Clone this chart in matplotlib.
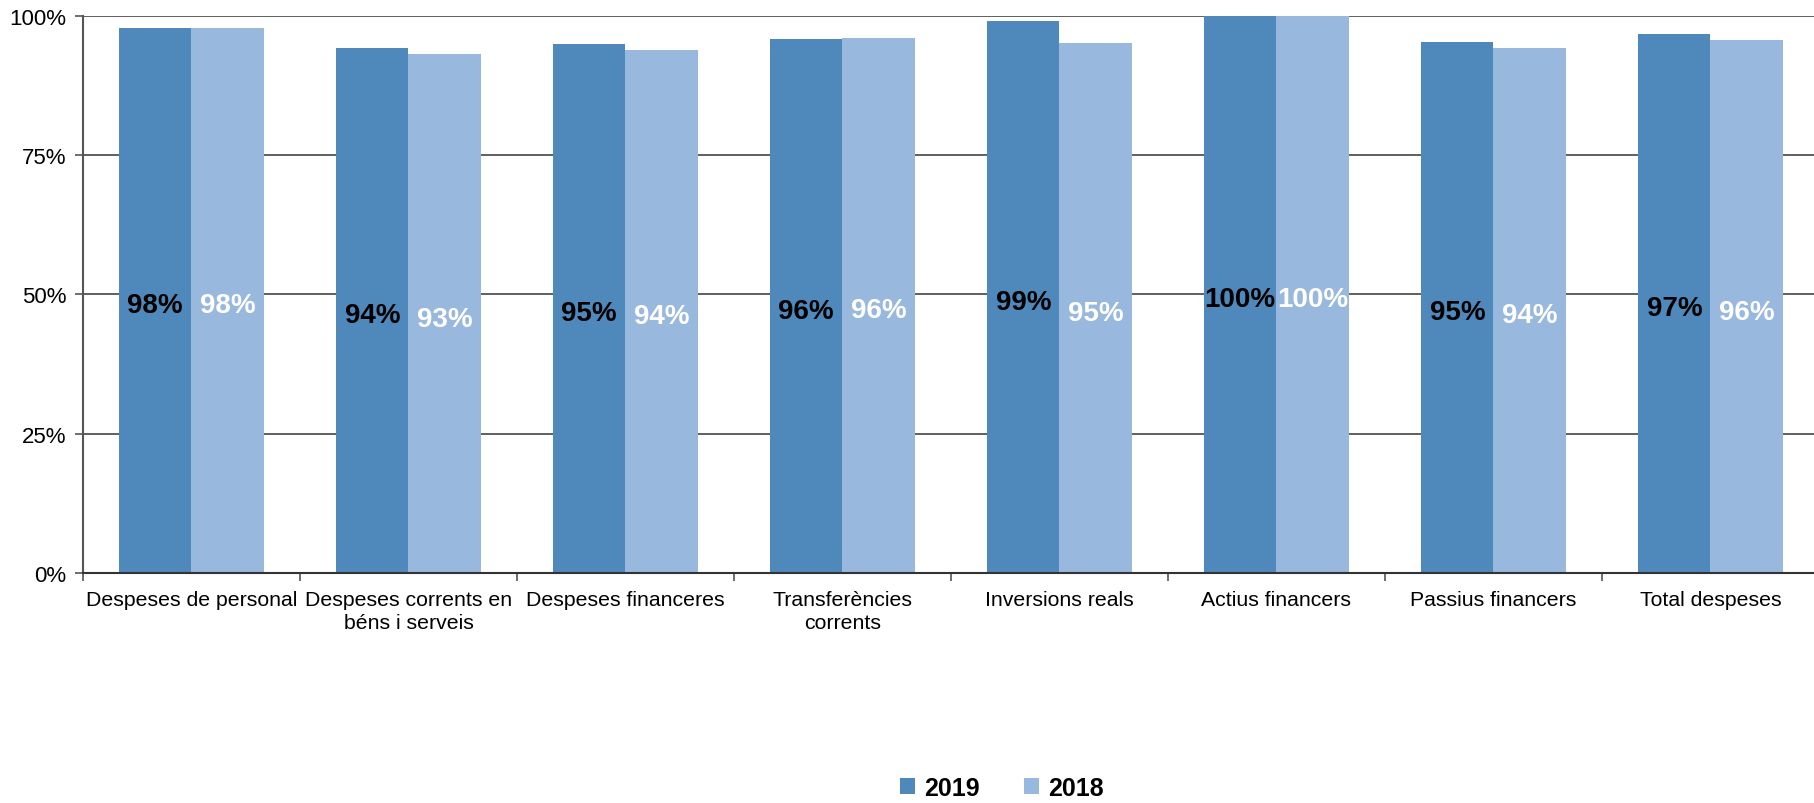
import matplotlib
matplotlib.use('Agg')
import matplotlib.pyplot as plt
import numpy as np

plt.rcParams['font.family'] = ['Liberation Sans', 'DejaVu Sans']

# data
categories = ['Despeses de personal', 'Despeses corrents en\nbéns i serveis',
              'Despeses financeres', 'Transferències\ncorrents', 'Inversions reals',
              'Actius financers', 'Passius financers', 'Total despeses']
vals_2019 = [97.8, 94.2, 95.0, 95.8, 99.1, 100.0, 95.4, 96.8]
vals_2018 = [97.9, 93.1, 93.9, 96.0, 95.2, 100.0, 94.3, 95.6]
labels_2019 = ['98%', '94%', '95%', '96%', '99%', '100%', '95%', '97%']
labels_2018 = ['98%', '93%', '94%', '96%', '95%', '100%', '94%', '96%']

c19 = '#4F88BB'
c18 = '#98B8DE'

fig = plt.figure(figsize=(18.15, 8.04), dpi=100)
ax = fig.add_axes([0.0457, 0.286, 0.9565, 0.693])

x = np.arange(len(categories))
w = 1 / 3
b1 = ax.bar(x - w / 2, vals_2019, w, color=c19, label='2019', zorder=2)
b2 = ax.bar(x + w / 2, vals_2018, w, color=c18, label='2018', zorder=2)

for rect, lab in zip(b1, labels_2019):
    ax.annotate(lab, (rect.get_x() + rect.get_width() / 2, rect.get_height() / 2),
                xytext=(0, -3.5), textcoords='offset points', ha='center', va='center',
                fontsize=20, fontweight='bold', color='black', zorder=3)
for rect, lab in zip(b2, labels_2018):
    ax.annotate(lab, (rect.get_x() + rect.get_width() / 2, rect.get_height() / 2),
                xytext=(0, -3.5), textcoords='offset points', ha='center', va='center',
                fontsize=20, fontweight='bold', color='white', zorder=3)

ax.set_xlim(-0.5, len(categories) - 0.5)
ax.set_ylim(0, 100)
ax.set_yticks([0, 25, 50, 75, 100])
ax.set_yticklabels(['0%', '25%', '50%', '75%', '100%'], fontsize=16)
ax.yaxis.grid(True, color='#444444', linewidth=1.2, zorder=0)

ax.set_xticks(x)
ax.set_xticklabels(categories, fontsize=15.3, linespacing=1.3)
ax.set_xticks(np.arange(len(categories) + 1) - 0.5, minor=True)
ax.tick_params(axis='x', which='major', length=0, pad=12)
ax.tick_params(axis='x', which='minor', length=6, color='#555555', width=1.2)
ax.tick_params(axis='y', length=6, color='#555555', width=1.2, pad=6)

for s in ['top', 'right']:
    ax.spines[s].set_visible(False)
ax.spines['left'].set_color('#555555')
ax.spines['left'].set_linewidth(1.5)
ax.spines['bottom'].set_color('#333333')
ax.spines['bottom'].set_linewidth(1.5)

fig.legend(handles=[b1, b2], labels=['2019', '2018'], loc='center',
           bbox_to_anchor=(0.552, 0.019), ncol=2, frameon=False,
           prop={'size': 18, 'weight': 'bold'}, handlelength=0.6, handleheight=0.6,
           handletextpad=0.35, columnspacing=1.8)

fig.savefig('out.png', dpi=100)
